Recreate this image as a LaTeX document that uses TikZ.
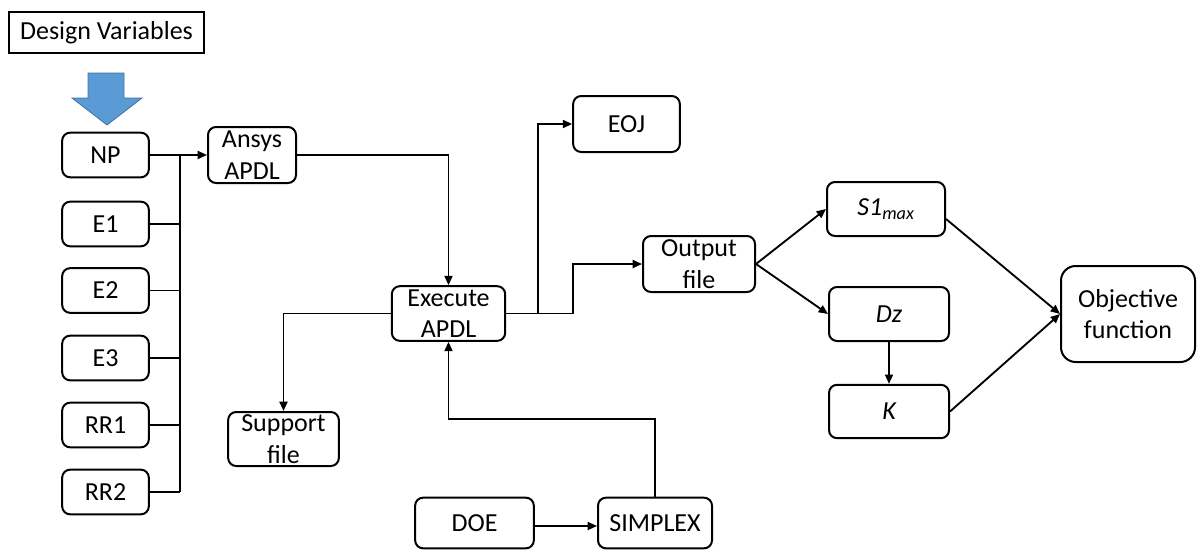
\documentclass[tikz,border=0pt]{standalone}
\usepackage{fontspec}
\setmainfont{Carlito}
\usetikzlibrary{arrows.meta}
\begin{document}
\begin{tikzpicture}[x=0.75pt,y=-0.75pt,
  every node/.style={font=\fontsize{19.5}{23.5}\selectfont, align=center, inner sep=0pt},
  box/.style={draw, line width=1.5pt, rounded corners=6pt, minimum width=#1},
  box/.default={87pt},
  conn/.style={line width=1.4pt},
  arr/.style={conn, -{Triangle[length=7pt,width=6pt]}}]
\useasboundingbox (0,0) rectangle (1198,550);
% title box
\node[draw, line width=1.1pt, minimum width=146pt, minimum height=31pt] (dv) at (106.5,32.5) {Design Variables};
% blue arrow
\fill[fill={rgb,255:red,91;green,155;blue,213}, draw={rgb,255:red,65;green,113;blue,156}, line width=0.6pt]
  (88,73) -- (124,73) -- (124,98) -- (142,98) -- (107,125) -- (72,98) -- (88,98) -- cycle;
% input variable boxes
\foreach \n/\t/\y in {np/NP/155, e1/E1/224, e2/E2/290.5, e3/E3/358, rr1/RR1/425, rr2/RR2/492}
  \node[box=65pt, minimum height=33.5pt] (\n) at (105.5,\y) {\t};
\node[box=66pt, minimum height=42pt] (ansys) at (252,155) {Ansys\\APDL};
\node[box=85pt, minimum height=41pt] (exec) at (448.5,313.5) {Execute\\APDL};
\node[box=80pt, minimum height=42pt] (eoj) at (626.5,124) {EOJ};
\node[box=84pt, minimum height=42pt] (out) at (699,264) {Output\\file};
\node[box=88.5pt, minimum height=40.5pt] (s1) at (886,209) {\itshape S1\textsubscript{max}};
\node[box=90pt, minimum height=40.5pt] (dz) at (889,314) {\itshape Dz};
\node[box=90pt, minimum height=40pt] (k) at (889,411.5) {\itshape K};
\node[box=100.5pt, minimum height=72pt, rounded corners=11pt] (obj) at (1128,314) {Objective\\function};
\node[box=83pt, minimum height=40.5pt] (sup) at (283.5,439) {Support\\file};
\node[box=89pt, minimum height=38pt] (doe) at (474.5,523) {DOE};
\node[box=85.5pt, minimum height=38pt] (simp) at (655,523) {SIMPLEX};
% bus
\coordinate (bt) at (180,155);
\coordinate (bb) at (180,492);
\draw[line width=1.8pt] (bt) -- (bb);
\foreach \n in {e1,e2,e3,rr1,rr2}
  \draw[conn] (\n.east) -- (\n.east -| bt);
\draw[arr] (np.east) -- (ansys.west);
% main flow
\draw[arr] (ansys.east) -| (exec.north);
\coordinate (j1) at (538,313.5);
\coordinate (j2) at (573,313.5);
\draw[conn] (exec.east) -- (j2);
\draw[arr] (j1) |- (eoj.west);
\draw[arr] (j2) |- (out.west);
\draw[arr] (exec.west) -| (sup.north);
\coordinate (j3) at (448.5,419);
\draw[arr] (simp.north) |- (j3) -- (exec.south);
\draw[arr] (doe.east |- 0,526) -- (simp.west |- 0,526);
\draw[arr] (out.east) -- (s1.west);
\draw[arr] (out.east) -- (dz.west);
\draw[arr] (dz.south) -- (k.north);
\draw[arr] (s1.east) ++(0,10) coordinate (s1o) (s1o) -- (obj.west);
\draw[arr] (k.east) -- (obj.west);
\end{tikzpicture}
\end{document}
